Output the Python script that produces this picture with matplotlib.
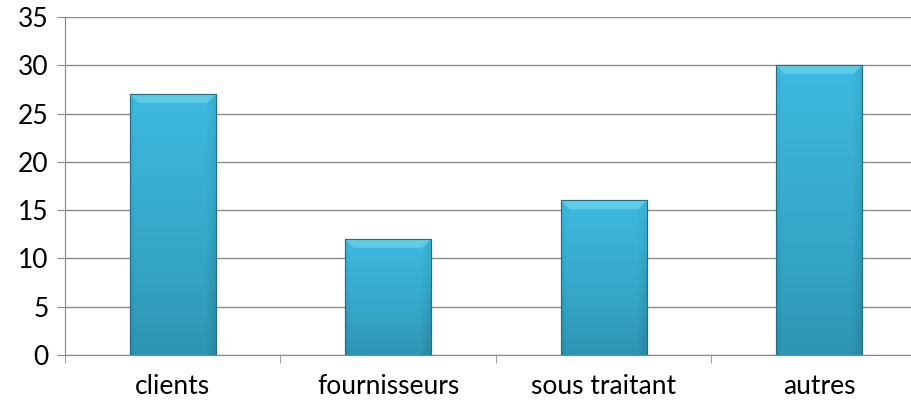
import numpy as np
import matplotlib.pyplot as plt
from matplotlib.colors import LinearSegmentedColormap

# Data
categories = ['clients', 'fournisseurs', 'sous traitant', 'autres']
values = [27, 12, 16, 30]
yticks = [0, 5, 10, 15, 20, 25, 30, 35]

plt.rcParams['font.family'] = ['Lato', 'DejaVu Sans']

fig = plt.figure(figsize=(9.11, 4.0), dpi=100)
# plot area runs past the right edge of the picture (cropped like the original)
ax = fig.add_axes([0.0714, 0.1125, 0.946, 0.845])

x = np.arange(len(categories))
bar_w = 0.40
bars = ax.bar(x, values, width=bar_w, color='#38b0d4', edgecolor='#1f6f86',
              linewidth=0.8, zorder=3)

# vertical + horizontal shading to mimic the bevel look
grad_cmap = LinearSegmentedColormap.from_list('b', ['#2a8aa6', '#35a6c8', '#3dbade'])
for b in bars:
    x0, y0 = b.get_x(), b.get_y()
    w, h = b.get_width(), b.get_height()
    vert = np.linspace(0, 1, 100)[:, None]
    horiz = np.linspace(0, 1, 50)[None, :]
    img = vert * 0.8 + 0.2 - 0.3 * np.clip((horiz - 0.88) / 0.12, 0, 1) \
        - 0.2 * np.clip((0.06 - horiz) / 0.06, 0, 1)
    im = ax.imshow(img, cmap=grad_cmap, vmin=0, vmax=1, origin='lower',
                   extent=[x0, x0 + w, y0, y0 + h], aspect='auto', zorder=3.5)
    im.set_clip_path(b)
    # light top bevel
    ax.fill([x0, x0 + w, x0 + w * 0.9, x0 + w * 0.1],
            [h, h, h - 0.9, h - 0.9], color='#5ccbe8', zorder=4, lw=0)
    ax.plot([x0, x0 + w, x0 + w, x0, x0], [0, 0, h, h, 0],
            color='#1f6f86', lw=0.8, zorder=5)

ax.set_xlim(-0.5, len(categories) - 0.5)
ax.set_ylim(0, 35)
ax.set_yticks(yticks)
ax.set_xticks(x)
ax.set_xticklabels(categories)
ax.set_xticks(np.arange(len(categories) + 1) - 0.5, minor=True)
ax.tick_params(axis='x', which='major', length=0, pad=14, labelsize=19)
ax.tick_params(axis='x', which='minor', length=6, color='#888888')
ax.tick_params(axis='y', length=6, color='#888888', labelsize=19, pad=6)

ax.grid(axis='y', color='#8c8c8c', linewidth=1, zorder=0)
ax.set_axisbelow(True)
for s in ['top', 'right']:
    ax.spines[s].set_visible(False)
for s in ['left', 'bottom']:
    ax.spines[s].set_color('#888888')

fig.savefig('out.png', dpi=100)
